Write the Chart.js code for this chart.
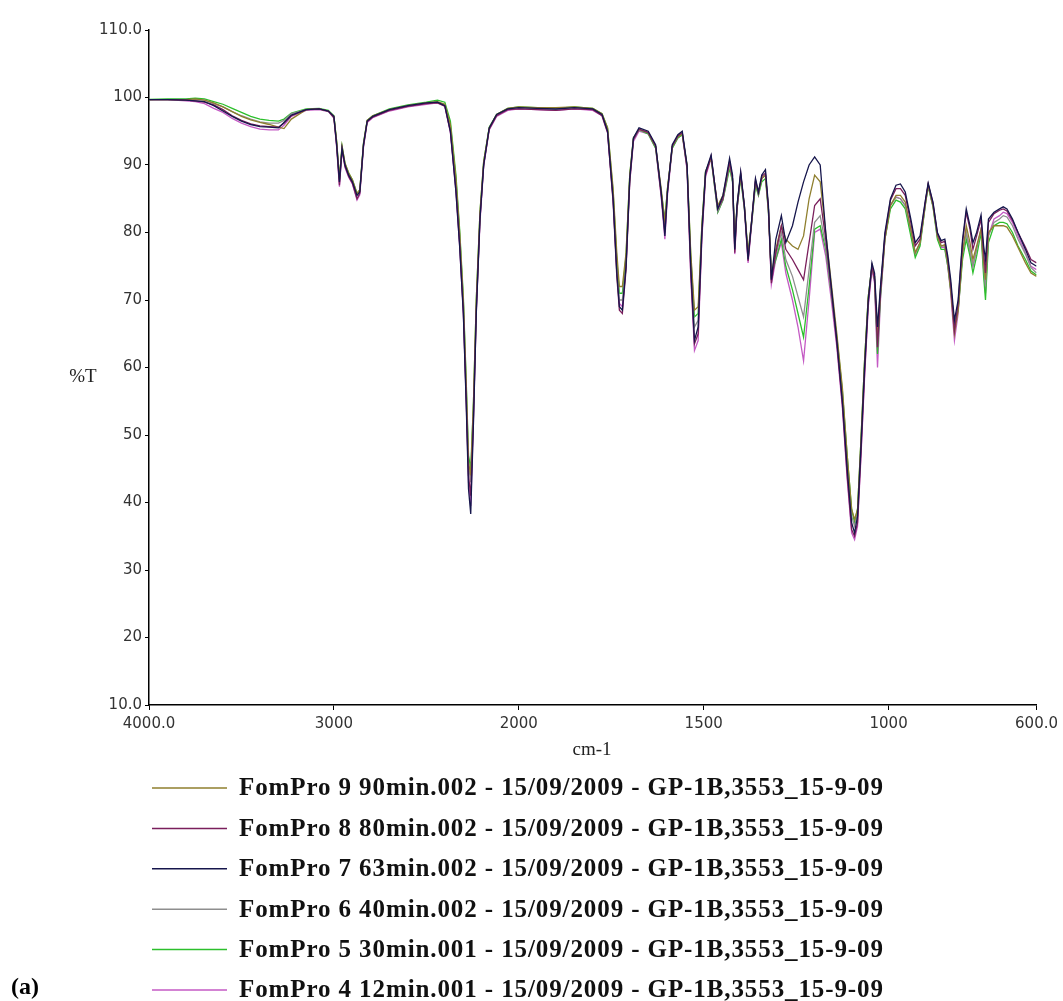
<!DOCTYPE html>
<html>
<head>
<meta charset="utf-8">
<script src="https://cdn.jsdelivr.net/npm/chart.js@4.4.1/dist/chart.umd.min.js"></script>
<style>
html, body { margin: 0; padding: 0; background: #fff; overflow: hidden; }
#wrap { position: relative; width: 1063px; height: 1001px; }
</style>
</head>
<body>
<div id="wrap"><canvas id="myChart"></canvas></div>
<script>
// wavenumbers (cm-1), shared by all six spectra
const wavenumbers = [
	4000,3900,3800,3750,3700,3650,3600,3550,3500,3450,
	3400,3350,3300,3270,3230,3150,3080,3030,3000,2985,
	2970,2956,2940,2920,2900,2875,2860,2840,2820,2790,
	2700,2600,2500,2440,2400,2370,2340,2320,2300,2285,
	2272,2260,2245,2230,2210,2190,2160,2120,2060,2000,
	1950,1900,1850,1800,1775,1760,1745,1735,1728,1720,
	1710,1700,1690,1675,1650,1630,1615,1605,1598,1585,
	1570,1558,1545,1535,1525,1515,1505,1495,1480,1462,
	1448,1430,1422,1416,1410,1400,1390,1380,1370,1360,
	1352,1343,1333,1325,1317,1305,1290,1278,1260,1245,
	1230,1215,1200,1185,1170,1155,1140,1125,1112,1100,
	1092,1084,1075,1065,1055,1045,1038,1030,1022,1010,
	995,980,968,955,940,928,915,900,893,880,
	868,858,848,840,832,822,812,800,790,780,
	772,762,750,743,738,730,715,700,690,680,
	665,650,630,615,600
];

// %T for each run
const fp9 = [
	99.7,99.7,99.7,99.8,99.6,99.2,98.6,97.9,97.2,96.7,
	96.3,96.0,95.6,95.4,96.8,98.2,98.3,98.0,97.2,93.5,
	88.0,92.8,90.3,88.8,87.8,85.8,86.3,93.2,96.6,97.3,
	98.2,98.8,99.2,99.4,99.0,96.0,88.0,80.0,70.0,58.0,
	46.0,44.0,55.0,70.0,83.0,90.5,95.5,97.5,98.4,98.6,
	98.5,98.5,98.6,98.4,97.6,95.5,86.5,77.0,72.0,72.0,
	77.0,88.5,94.0,95.3,94.8,92.8,86.5,81.5,86.5,92.8,
	94.2,94.6,90.0,77.0,68.5,69.0,81.0,89.0,91.0,84.0,
	85.5,90.5,88.0,78.5,84.0,88.5,84.0,77.0,82.0,87.5,
	86.0,88.0,88.5,83.5,73.5,77.5,81.0,79.0,78.0,77.5,
	79.5,85.0,88.5,87.5,80.0,72.5,65.0,57.0,47.0,39.0,
	37.5,39.0,49.0,61.0,70.5,75.0,73.5,65.0,71.5,79.0,
	84.0,85.5,85.5,84.5,80.5,77.0,78.5,84.5,87.0,84.0,
	79.5,78.0,78.2,75.5,71.5,65.0,68.5,77.0,81.0,78.5,
	76.0,78.0,80.5,75.5,73.0,80.0,81.0,81.0,81.0,80.8,
	79.5,77.8,75.5,74.0,73.5
];
const fp8 = [
	99.7,99.7,99.6,99.5,99.3,98.9,98.2,97.3,96.6,96.1,
	95.8,95.7,95.6,96.2,97.3,98.2,98.3,98.0,97.0,92.8,
	87.0,92.3,89.8,88.3,87.3,85.0,85.8,92.8,96.4,97.1,
	98.1,98.7,99.1,99.2,98.7,95.0,86.5,78.5,68.5,56.0,
	44.0,41.0,53.0,68.5,82.0,90.0,95.3,97.3,98.2,98.3,
	98.2,98.1,98.3,98.2,97.3,94.8,84.5,73.5,68.5,68.0,
	74.5,87.5,93.8,95.3,94.8,92.8,85.5,80.0,86.0,92.8,
	94.3,94.8,89.5,74.0,63.5,65.0,79.5,88.5,91.3,83.5,
	85.0,90.5,88.0,77.0,83.5,88.8,83.8,75.8,81.8,87.8,
	85.8,88.3,88.8,83.5,72.5,77.0,81.0,77.5,76.0,74.5,
	73.0,78.5,84.0,85.0,79.0,71.5,63.5,54.5,44.0,36.0,
	35.0,37.0,47.0,59.0,69.5,75.0,73.0,63.0,71.0,79.5,
	84.8,86.5,86.5,85.5,81.5,78.0,79.0,84.8,87.2,84.3,
	79.8,78.5,78.7,76.0,72.3,65.5,69.5,78.5,83.0,80.5,
	77.5,79.5,82.0,77.0,74.0,81.5,82.8,83.3,83.5,83.2,
	81.8,80.0,77.8,76.0,75.5
];
const fp7 = [
	99.7,99.7,99.6,99.5,99.4,98.8,98.0,97.2,96.5,96.0,
	95.7,95.6,95.5,96.3,97.4,98.2,98.3,98.0,97.2,93.0,
	87.5,92.5,90.0,88.5,87.5,85.5,86.0,93.0,96.5,97.2,
	98.2,98.8,99.2,99.3,98.8,95.0,86.0,78.0,68.0,55.0,
	42.0,38.3,52.0,68.0,82.0,90.0,95.5,97.5,98.3,98.5,
	98.4,98.3,98.5,98.3,97.5,95.0,85.0,74.0,69.0,68.5,
	75.0,88.0,94.0,95.5,95.0,93.0,86.0,79.5,86.0,93.0,
	94.5,95.0,90.0,75.0,64.0,66.0,80.0,89.0,91.5,83.5,
	85.5,91.0,88.5,77.5,84.0,89.0,84.0,76.0,82.0,88.0,
	86.0,88.5,89.3,84.0,73.0,79.0,82.5,78.5,81.0,84.5,
	87.5,90.0,91.2,90.0,80.0,72.0,64.0,55.0,45.0,37.0,
	35.5,38.0,48.0,60.0,70.0,75.5,74.0,66.0,72.0,80.0,
	85.0,87.0,87.2,86.0,82.0,78.5,79.5,85.0,87.3,84.5,
	80.0,78.8,79.0,76.5,73.0,67.0,70.0,79.0,83.5,81.0,
	78.5,80.0,82.6,78.0,76.0,82.0,83.0,83.5,83.8,83.5,
	82.0,80.0,77.5,75.5,75.0
];
const fp6 = [
	99.7,99.7,99.7,99.7,99.6,99.1,98.6,97.9,97.3,96.8,
	96.4,96.2,96.2,96.6,97.6,98.2,98.3,98.0,97.2,93.2,
	87.8,92.6,90.1,88.6,87.6,85.6,86.1,93.0,96.5,97.2,
	98.2,98.8,99.2,99.3,98.9,95.5,87.0,79.5,69.5,57.0,
	45.5,43.0,54.0,69.0,82.5,90.2,95.4,97.4,98.3,98.5,
	98.4,98.3,98.5,98.3,97.5,95.2,85.5,75.0,70.0,70.0,
	75.5,88.0,93.8,95.2,94.8,92.8,86.0,81.0,86.3,92.8,
	94.2,94.7,89.8,75.5,66.0,67.0,80.5,88.8,91.2,83.2,
	85.0,90.0,87.8,77.8,83.8,88.5,83.8,76.5,81.8,87.5,
	85.8,88.0,88.5,83.5,73.5,76.5,80.0,76.0,73.5,70.5,
	67.5,74.5,81.5,82.5,78.0,71.0,64.0,55.5,46.0,38.0,
	36.5,38.5,48.5,60.5,70.0,75.0,73.5,64.0,71.5,79.5,
	84.0,85.2,85.0,84.0,80.5,77.0,78.5,84.5,87.0,84.0,
	79.5,78.0,78.0,75.5,72.0,66.0,69.0,77.0,80.0,77.5,
	75.0,77.5,80.5,75.0,72.0,79.5,81.5,82.0,82.5,82.3,
	81.0,79.0,76.8,74.8,74.0
];
const fp5 = [
	99.7,99.8,99.8,99.9,99.8,99.4,99.0,98.4,97.8,97.2,
	96.8,96.6,96.5,96.8,97.7,98.3,98.4,98.1,97.3,93.4,
	88.0,92.8,90.2,88.8,87.8,85.8,86.3,93.2,96.6,97.3,
	98.3,98.9,99.3,99.6,99.3,96.5,88.5,80.5,70.5,58.5,
	47.0,45.0,55.0,70.0,83.0,90.5,95.6,97.5,98.4,98.6,
	98.5,98.4,98.6,98.4,97.6,95.5,86.0,76.0,71.0,71.0,
	76.5,88.5,94.0,95.2,94.6,92.5,86.0,82.0,86.5,92.5,
	94.0,94.5,89.8,76.5,67.5,68.0,81.0,89.0,91.0,83.0,
	84.8,89.5,87.5,78.5,83.5,88.0,83.5,77.0,81.5,87.0,
	85.5,87.5,88.0,83.0,73.8,76.0,79.0,75.0,71.5,68.0,
	64.5,72.0,80.5,81.0,77.5,71.0,64.5,56.5,47.0,39.0,
	37.0,39.0,49.0,61.0,70.5,75.0,73.0,62.0,70.5,79.0,
	83.5,84.8,84.5,83.5,79.5,76.3,78.0,84.3,86.8,83.8,
	79.0,77.5,77.5,75.0,71.5,66.5,68.5,76.0,79.0,76.5,
	74.0,76.5,80.0,73.5,70.0,78.5,81.0,81.5,81.5,81.3,
	80.0,78.0,76.0,74.3,73.7
];
const fp4 = [
	99.7,99.7,99.5,99.4,99.1,98.4,97.8,96.9,96.2,95.7,
	95.3,95.2,95.2,95.9,97.2,98.1,98.2,97.9,97.0,92.6,
	86.8,92.2,89.6,88.2,87.2,84.8,85.6,92.6,96.3,97.0,
	98.0,98.6,99.0,99.2,98.7,94.8,86.0,78.0,68.0,55.5,
	43.0,39.5,52.5,68.0,81.5,89.8,95.2,97.2,98.1,98.3,
	98.2,98.1,98.3,98.1,97.3,94.8,84.8,74.5,69.5,69.0,
	75.0,87.5,93.5,95.0,94.6,92.5,85.3,79.0,85.5,92.5,
	94.0,94.5,89.3,73.5,62.5,64.0,79.0,88.3,91.0,83.0,
	84.8,90.0,87.5,76.8,83.3,88.5,83.5,75.5,81.5,87.5,
	85.5,88.0,88.5,83.2,72.3,76.0,78.5,74.0,70.0,66.0,
	61.0,70.0,80.0,80.5,76.5,70.0,63.0,54.0,43.5,35.5,
	34.5,36.5,46.5,58.5,69.0,74.5,72.5,60.0,70.0,79.0,
	84.0,85.3,85.0,84.0,80.0,76.8,78.3,84.5,87.0,84.0,
	79.3,77.8,77.8,75.0,71.0,64.0,68.0,77.0,80.0,77.0,
	75.0,77.5,80.5,74.5,71.0,79.5,82.0,82.5,83.0,82.8,
	81.5,79.5,77.0,75.0,74.5
];

const seriesLabels = [
	"FomPro 9 90min.002 - 15/09/2009 - GP-1B,3553_15-9-09",
	"FomPro 8 80min.002 - 15/09/2009 - GP-1B,3553_15-9-09",
	"FomPro 7 63min.002 - 15/09/2009 - GP-1B,3553_15-9-09",
	"FomPro 6 40min.002 - 15/09/2009 - GP-1B,3553_15-9-09",
	"FomPro 5 30min.001 - 15/09/2009 - GP-1B,3553_15-9-09",
	"FomPro 4 12min.001 - 15/09/2009 - GP-1B,3553_15-9-09"
];
const seriesValues = [fp9, fp8, fp7, fp6, fp5, fp4];
const seriesColors = ["#8f7f2e", "#7a1f5c", "#16164c", "#8e8e8e", "#2cbf2c", "#c45ac4"];
const drawOrder = [2, 1, 0, 3, 4, 5];

const xTickWn = [4000, 3000, 2000, 1500, 1000, 600];
const xTickText = ["4000.0", "3000", "2000", "1500", "1000", "600.0"];
const yTickValues = [10, 20, 30, 40, 50, 60, 70, 80, 90, 100, 110];

// the spectrometer plots 4000-2000 at half the scale of 2000-600
function axisPos(wn) {
	return wn >= 2000 ? (4000 - wn) / 2 : 1000 + (2000 - wn);
}

const datasets = seriesValues.map((vals, k) => ({
	label: seriesLabels[k],
	data: wavenumbers.map((w, i) => ({ x: axisPos(w), y: vals[i] })),
	borderColor: seriesColors[k],
	backgroundColor: seriesColors[k],
	borderWidth: 1.3,
	pointRadius: 0,
	tension: 0,
	order: drawOrder[k],
}));

const extraText = {
	id: "extraText",
	afterDraw(chart) {
		const ctx = chart.ctx;
		ctx.save();
		ctx.fillStyle = "#222";
		ctx.textBaseline = "middle";
		ctx.textAlign = "center";
		ctx.font = "19px 'Liberation Serif'";
		ctx.fillText("%T", 83, 377);
		ctx.fillText("cm-1", 592, 750);

		ctx.textAlign = "left";
		chart.data.datasets.forEach((ds, k) => {
			const y = 788 + k * 40.4;
			ctx.strokeStyle = ds.borderColor;
			ctx.lineWidth = 1.5;
			ctx.beginPath();
			ctx.moveTo(152, y);
			ctx.lineTo(227, y);
			ctx.stroke();
			ctx.fillStyle = "#111";
			ctx.font = "bold 25px 'Liberation Serif'";
			// legend text in the original runs out to about x=885
			ctx.letterSpacing = "0px";
			const w = ctx.measureText(ds.label).width;
			ctx.letterSpacing = Math.max(0, (645 - w) / ds.label.length).toFixed(2) + "px";
			ctx.fillText(ds.label, 239, y + 1);
			ctx.letterSpacing = "0px";
		});

		ctx.font = "bold 24px 'Liberation Serif'";
		ctx.fillStyle = "#000";
		ctx.fillText("(a)", 11, 988);
		ctx.restore();
	},
};

new Chart(document.getElementById("myChart"), {
	type: "line",
	data: { datasets: datasets },
	options: {
		responsive: true,
		maintainAspectRatio: false,
		animation: false,
		devicePixelRatio: 1,
		layout: { padding: { top: 30, right: 22, left: 0, bottom: 0 } },
		plugins: { legend: { display: false }, tooltip: { enabled: false } },
		scales: {
			x: {
				type: "linear",
				min: 0,
				max: 2400,
				afterBuildTicks: (s) => { s.ticks = xTickWn.map((w) => ({ value: axisPos(w) })); },
				afterFit: (s) => { s.height = 1001 - 705; },
				ticks: {
					autoSkip: false,
					maxRotation: 0,
					padding: 5,
					color: "#333",
					font: { family: "DejaVu Sans", size: 15 },
					callback: (v, i) => xTickText[i],
				},
				grid: { drawOnChartArea: false, drawTicks: true, tickLength: 5, color: "#000" },
				border: { color: "#000", width: 1.5 },
			},
			y: {
				min: 10,
				max: 110,
				afterBuildTicks: (s) => { s.ticks = yTickValues.map((v) => ({ value: v })); },
				afterFit: (s) => { s.width = 149; },
				ticks: {
					padding: 3,
					color: "#333",
					font: { family: "DejaVu Sans", size: 15 },
					callback: (v) => (v === 10 || v === 110 ? v.toFixed(1) : String(v)),
				},
				grid: { drawOnChartArea: false, drawTicks: true, tickLength: 4, color: "#000" },
				border: { color: "#000", width: 1.5 },
			},
		},
	},
	plugins: [extraText],
});
</script>
</body>
</html>
